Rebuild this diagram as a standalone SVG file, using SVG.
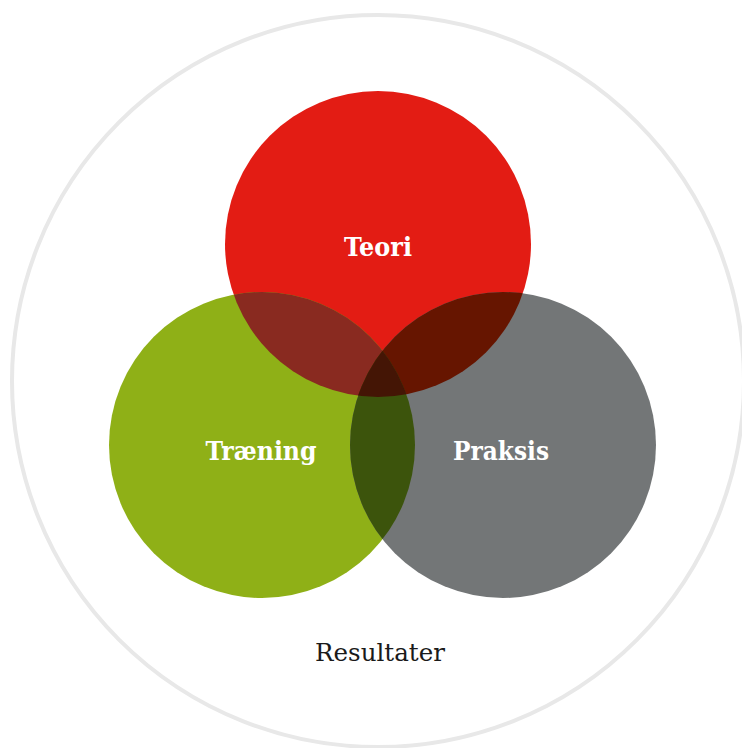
<svg xmlns="http://www.w3.org/2000/svg" width="742" height="748" viewBox="0 0 742 748">
  <style>
    .lbl { font-family: "DejaVu Serif", "Liberation Serif", serif; font-weight: bold; font-size: 26px; fill: #ffffff; text-anchor: middle; }
    .res { font-family: "DejaVu Serif", "Liberation Serif", serif; font-size: 25px; fill: #1a1a1a; text-anchor: middle; }
  </style>
  <defs>
    <clipPath id="cRed"><circle cx="378" cy="244" r="153"/></clipPath>
    <clipPath id="cGreen"><circle cx="262" cy="445" r="153"/></clipPath>
    <clipPath id="cGrey"><circle cx="503" cy="445" r="153"/></clipPath>
  </defs>
  <rect width="742" height="748" fill="#ffffff"/>
  <g id="outer">
    <circle cx="378" cy="381" r="366" fill="none" stroke="#e8e8e8" stroke-width="4"/>
    <text class="res" x="380" y="661" textLength="130" lengthAdjust="spacingAndGlyphs">Resultater</text>
  </g>
  <g id="connectors"></g>
  <g id="teori">
    <circle cx="378" cy="244" r="153" fill="#e31c14"/>
  </g>
  <g id="traening">
    <circle cx="262" cy="445" r="153" fill="#8fb017"/>
  </g>
  <g id="praksis">
    <circle cx="503" cy="445" r="153" fill="#737677"/>
  </g>
  <g id="overlaps">
    <g clip-path="url(#cRed)"><circle cx="262" cy="445" r="153" fill="#892a20"/></g>
    <g clip-path="url(#cRed)"><circle cx="503" cy="445" r="153" fill="#661500"/></g>
    <g clip-path="url(#cGreen)"><circle cx="503" cy="445" r="153" fill="#3c540c"/></g>
    <g clip-path="url(#cRed)"><g clip-path="url(#cGreen)"><circle cx="503" cy="445" r="153" fill="#441505"/></g></g>
  </g>
  <g id="labels">
    <text class="lbl" x="378" y="256" textLength="68" lengthAdjust="spacingAndGlyphs">Teori</text>
    <text class="lbl" x="261" y="460" textLength="111" lengthAdjust="spacingAndGlyphs">Træning</text>
    <text class="lbl" x="501" y="460" textLength="96" lengthAdjust="spacingAndGlyphs">Praksis</text>
  </g>
</svg>
